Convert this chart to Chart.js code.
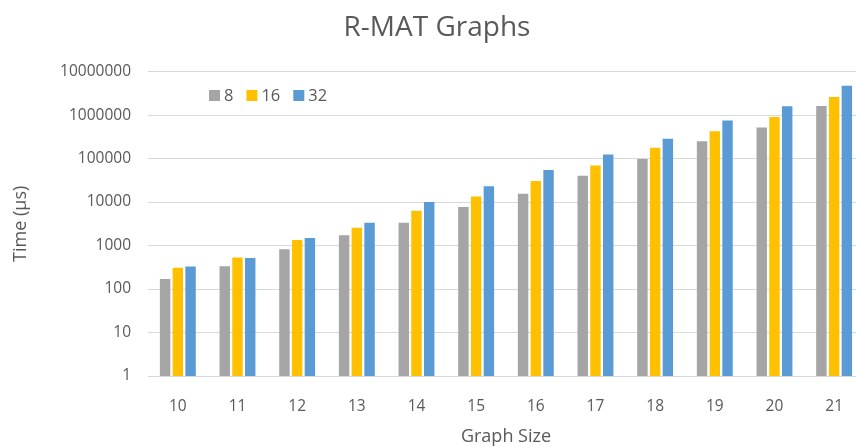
<html>
<head>
<title>R-MAT Graphs</title>
<script src="https://cdn.jsdelivr.net/npm/chart.js@4.4.1/dist/chart.umd.min.js"></script>
<style>
  body { margin: 0; overflow: hidden; background: #fff; }
  #wrap { width: 864px; height: 448px; }
</style>
</head>
<body>
<div id="wrap"><canvas id="myChart" width="864" height="448"></canvas></div>
<script>
var graphSizes = ["10", "11", "12", "13", "14", "15", "16", "17", "18", "19", "20", "21"];
var threads8  = [170, 333, 820, 1730, 3340, 7700, 15600, 40500, 98000, 251000, 519000, 1610000];
var threads16 = [310, 530, 1350, 2560, 6300, 13500, 30500, 69000, 178000, 427000, 900000, 2600000];
var threads32 = [330, 520, 1500, 3340, 10000, 23000, 54800, 124000, 287000, 754000, 1590000, 4750000];
var yTicks = [1, 10, 100, 1000, 10000, 100000, 1000000, 10000000];

var fontFam = "'Open Sans', 'Liberation Sans', sans-serif";
var textCol = '#595959';

// legend drawn inside the plot, top left, like the original
var insideLegend = {
    id: 'insideLegend',
    afterDraw: function(chart) {
        var ctx = chart.ctx;
        var x = 209, y = 96;
        ctx.save();
        ctx.font = '16.5px ' + fontFam;
        ctx.textBaseline = 'middle';
        chart.data.datasets.forEach(function(ds) {
            ctx.fillStyle = ds.backgroundColor;
            ctx.fillRect(x, y - 6, 11, 11);
            ctx.fillStyle = textCol;
            ctx.fillText(ds.label, x + 15, y);
            x += 15 + ctx.measureText(ds.label).width + 13;
        });
        ctx.restore();
    }
};

var ctx = document.getElementById("myChart").getContext('2d');
var myChart = new Chart(ctx, {
    type: 'bar',
    data: {
        labels: graphSizes,
        datasets: [
            { label: '8',  data: threads8,  backgroundColor: '#a5a5a5' },
            { label: '16', data: threads16, backgroundColor: '#ffc000' },
            { label: '32', data: threads32, backgroundColor: '#5b9bd5' }
        ]
    },
    options: {
        responsive: false,
        animation: false,
        layout: { padding: { left: 10, right: 0, top: 0, bottom: 0 } },
        datasets: { bar: { categoryPercentage: 0.64, barPercentage: 0.82 } },
        plugins: {
            legend: { display: false },
            tooltip: { enabled: false },
            title: {
                display: true,
                text: 'R-MAT Graphs',
                color: textCol,
                font: { family: fontFam, size: 28, weight: 'normal' },
                padding: { top: 11, bottom: 27 }
            }
        },
        scales: {
            x: {
                afterFit: function(scale) { scale.height = 72; },
                grid: { display: false, drawTicks: false },
                border: { color: '#d9d9d9', width: 1 },
                ticks: { color: textCol, font: { family: fontFam, size: 15.5 }, padding: 21 },
                title: { display: true, text: 'Graph Size', color: textCol,
                         font: { family: fontFam, size: 18 }, padding: { top: 0, bottom: 0 } }
            },
            y: {
                type: 'logarithmic',
                min: 1,
                max: 10000000,
                afterFit: function(scale) { scale.width = 138; },
                afterBuildTicks: function(scale) {
                    scale.ticks = yTicks.map(function(v) { return { value: v }; });
                },
                grid: { color: '#d9d9d9', drawTicks: false },
                border: { display: false },
                ticks: {
                    color: textCol,
                    font: { family: fontFam, size: 15.5 },
                    padding: 17,
                    callback: function(v) { return String(v); }
                },
                title: { display: true, text: 'Time (\u00b5s)', color: textCol,
                         font: { family: fontFam, size: 18 }, padding: 0 }
            }
        }
    },
    plugins: [insideLegend]
});
</script>
</body>
</html>
